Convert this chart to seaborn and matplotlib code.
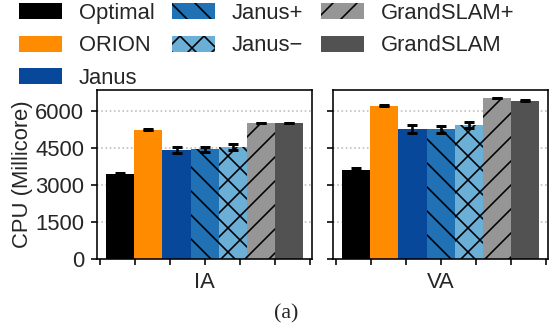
import numpy as np
import pandas as pd
import seaborn as sns
import matplotlib.pyplot as plt
from matplotlib.ticker import MultipleLocator

# --- DATA ---
workloads = ["IA", "VA"]
schemes = ["Optimal", "ORION", "Janus", "Janus+", "Janus\u2212", "GrandSLAM+", "GrandSLAM"]
cpu_ia = [3450, 5230, 4420, 4445, 4535, 5510, 5510]
cpu_va = [3610, 6215, 5270, 5255, 5430, 6525, 6415]
err_ia = [55, 20, 110, 100, 110, 15, 15]
err_va = [75, 15, 180, 130, 115, 15, 15]

colors = ["#000000", "#ff8c00", "#08489a", "#2171b5", "#6baed6", "#969696", "#525252"]
hatches = ["", "", "", "\\\\", "xx", "//", ""]

# --- THEME ---
sns.set_theme(style="ticks")
plt.rcParams["font.family"] = ["Liberation Sans", "DejaVu Sans"]
plt.rcParams["hatch.linewidth"] = 0.8

df = pd.DataFrame({
    "workload": np.repeat(workloads, len(schemes)),
    "scheme": schemes * len(workloads),
    "cpu": cpu_ia + cpu_va,
    "err": err_ia + err_va,
})

dpi = 144
fig, axes = plt.subplots(1, 2, figsize=(549 / dpi, 329 / dpi), dpi=dpi, sharey=True)
fig.subplots_adjust(left=97.3 / 549, right=548 / 549, bottom=1 - 259 / 329,
                    top=1 - 90 / 329, wspace=0.099)

for ax, wl in zip(axes, workloads):
    sub = df[df["workload"] == wl]
    sns.barplot(data=sub, x="workload", y="cpu", hue="scheme", hue_order=schemes,
                palette=colors, width=0.918, errorbar=None, saturation=1,
                legend=False, ax=ax)
    for cont, h, e in zip(ax.containers, hatches, sub["err"]):
        for p in cont:
            p.set_edgecolor("black")
            p.set_linewidth(0)
            p.set_hatch(h)
            ax.errorbar(p.get_x() + p.get_width() / 2, p.get_height(), yerr=e,
                        fmt="none", ecolor="black", elinewidth=1.3,
                        capsize=2.5, capthick=1.5, zorder=5)
    ax.set_xlim(-0.5, 0.5)
    ax.set_ylim(0, 6850)
    ax.yaxis.set_major_locator(MultipleLocator(1500))
    ax.xaxis.set_minor_locator(MultipleLocator(0.163))
    ax.yaxis.grid(True, linestyle=":", color="#bbbbbb", linewidth=0.8)
    ax.set_axisbelow(True)
    ax.set_xlabel("")
    ax.set_ylabel("")
    ax.tick_params(axis="both", which="both", labelsize=11, length=3, width=0.8, color="black")
    for s in ax.spines.values():
        s.set_visible(True)
        s.set_color("black")
        s.set_linewidth(0.8)

axes[0].set_ylabel("CPU (Millicore)", fontsize=11, labelpad=1)
axes[1].tick_params(axis="y", labelleft=False)

handles = [c[0] for c in axes[0].containers]
fig.legend(handles, schemes, loc="upper left", bbox_to_anchor=(19 / 549, 1 - 3 / 329),
           ncol=3, frameon=False, fontsize=11, borderpad=0, borderaxespad=0,
           handlelength=1.95, handleheight=0.72, handletextpad=0.77,
           columnspacing=0.8, labelspacing=0.52)

fig.text(286 / 549, 1 - 314 / 329, "(a)", ha="center", va="center", fontsize=11,
         family=["Liberation Serif", "DejaVu Serif"])

plt.savefig("out.png", dpi=dpi)
